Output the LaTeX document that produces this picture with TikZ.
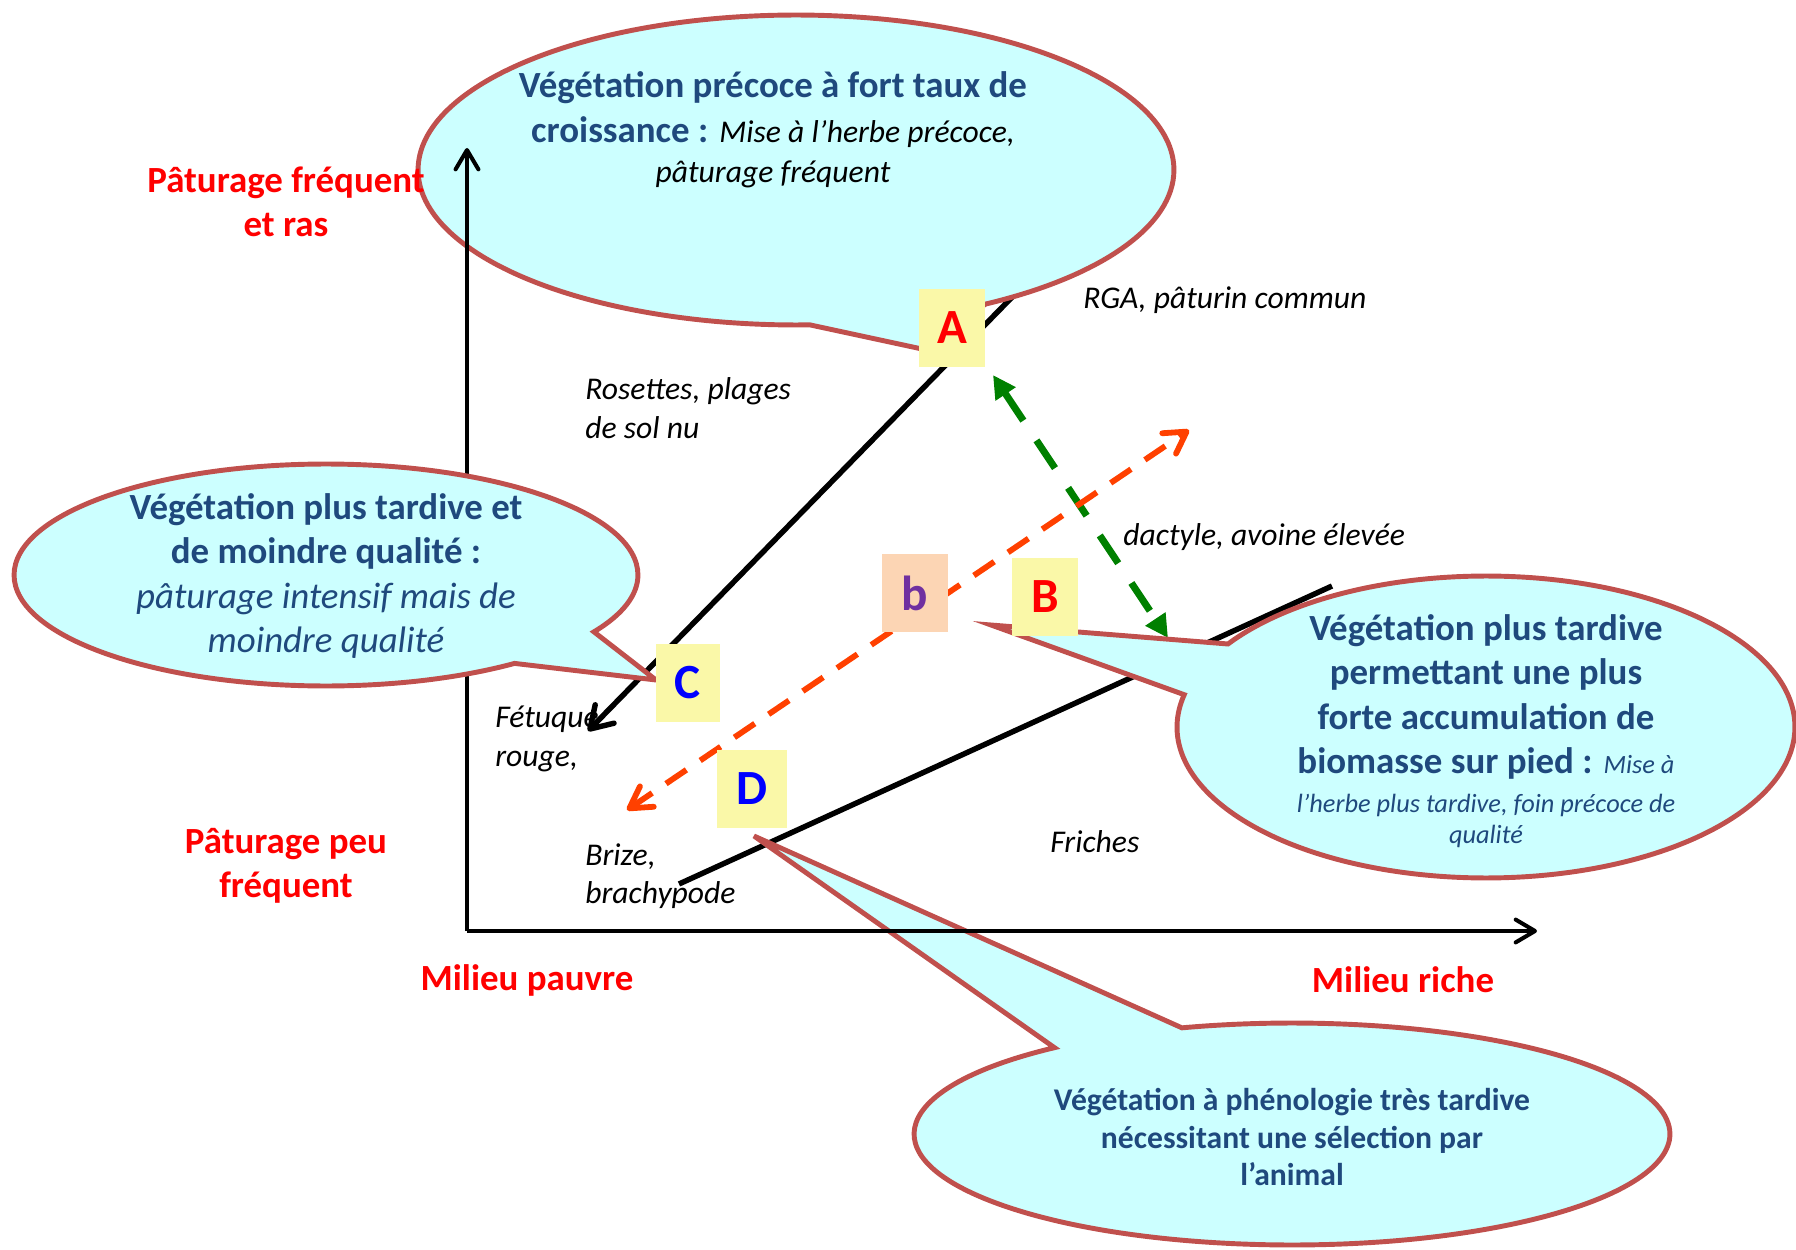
\documentclass[tikz,border=0pt]{standalone}
\usepackage{fontspec}
\setmainfont{Carlito}
\usetikzlibrary{arrows.meta,positioning,shapes.callouts}
\definecolor{bordure}{HTML}{C0504D}
\definecolor{cyanpale}{HTML}{CCFFFF}
\definecolor{bleufonce}{HTML}{1F497D}
\definecolor{jaune}{HTML}{FAF8A8}
\definecolor{peche}{HTML}{FCD5B4}
\definecolor{violetb}{HTML}{7030A0}
\definecolor{vert}{HTML}{008000}
\definecolor{orangevif}{HTML}{FF4000}
\newcommand{\glose}[1]{{\mdseries\itshape #1}}
\tikzstyle{bulle}=[ellipse callout,draw=bordure,fill=cyanpale,line width=2.8pt]
\tikzstyle{lettre}=[rectangle,fill=jaune,minimum width=1.32cm,minimum height=1.56cm,inner sep=0,font=\fontsize{28}{34}\selectfont\bfseries]
\tikzstyle{espece}=[anchor=west,align=left,inner sep=0,font=\fontsize{18}{21.9}\selectfont\itshape]
\tikzstyle{axe}=[align=center,text=red,inner sep=0,font=\fontsize{21}{24.8}\selectfont\bfseries]
\tikzstyle{texte}=[align=center,inner sep=0,text=bleufonce,font=\fontsize{21}{25.3}\selectfont\bfseries]
\tikzstyle{fleche}=[line width=2.3pt,-{Straight Barb[length=11pt,width=13pt,round]}]
\tikzstyle{trait}=[line width=3.1pt,-{Straight Barb[length=12pt,width=15pt,round]}]

\begin{document}
\begin{tikzpicture}[x=0.02cm,y=-0.02cm]
\useasboundingbox (0,0) rectangle (1796,1250);
% especes
\node[espece] (rga) at (1083,300) {RGA, pâturin commun};
\node[espece] (rosettes) at (585,408) {Rosettes, plages\\de sol nu};
\node[espece] (dactyle) at (1123,537) {dactyle, avoine élevée};
\node[espece] (fetuque) at (495,739) {Fétuque\\rouge,};
\node[espece] (brize) at (585,876) {Brize,\\brachypode};
\node[espece] (friches) at (1050,842) {Friches};
% trajectoires
\coordinate (hautA) at (1019,290);
\coordinate (basC) at (588,731);
\draw[trait] (hautA) -- (basC);
\coordinate (basD) at (679,884);
\coordinate (hautD) at (1332,586);
\draw[line width=3.1pt] (basD) -- (hautD);
% fleches pointillees
\coordinate (vertA) at (993,375);
\coordinate (vertB) at (1168,638);
\draw[vert,line width=4pt,dash pattern=on 19pt off 13.5pt,{Triangle[length=13pt,width=13pt]}-{Triangle[length=13pt,width=13pt]}] (vertA) -- (vertB);
\coordinate (orH) at (1189,430);
\coordinate (orB) at (627,810);
\draw[orangevif,line width=3.3pt,dash pattern=on 14pt off 9.5pt,{Straight Barb[length=12pt,width=14pt,round]}-{Straight Barb[length=12pt,width=14pt,round]}] (orB) -- (orH);
% bulles
\coordinate (pA) at (922,349);
\coordinate (pC) at (656,680);
\coordinate (pB) at (991,625);
\coordinate (pD) at (754,836);
\node[bulle,minimum width=15.12cm,minimum height=6.2cm,callout absolute pointer=(pA),callout pointer arc=28] (bA) at (796,170) {};
\node[bulle,minimum width=12.36cm,minimum height=6.04cm,callout absolute pointer=(pB),callout pointer arc=21] (bB) at (1486,727) {};
\node[bulle,minimum width=15.12cm,minimum height=4.44cm,callout absolute pointer=(pD),callout pointer arc=22] (bD) at (1292,1134) {};
% axes
\coordinate (O) at (467,931);
\coordinate (haut) at (467,148);
\coordinate (droite) at (1537,931);
\draw[fleche] (O) -- (haut);
\draw[fleche] (O) -- (droite);
\node[bulle,minimum width=12.48cm,minimum height=4.44cm,callout absolute pointer=(pC),callout pointer arc=22] (bC) at (326,575) {};
\node[axe] (frequent) at (286,202) {Pâturage fréquent\\et ras};
\node[axe] (peufrequent) at (286,866) {Pâturage peu\\fréquent};
\node[axe] (pauvre) at (527,980) {Milieu pauvre};
\node[axe] (riche) at (1403,980) {Milieu riche};
% textes des bulles
\node[texte] (tA) at (773,130) {Végétation précoce à fort taux de\\croissance : \glose{\color{black}\fontsize{18}{22}\selectfont Mise à l’herbe précoce,}\\[-2pt]\glose{\color{black}\fontsize{18}{22}\selectfont pâturage fréquent}};
\node[texte] (tC) at (326,576) {Végétation plus tardive et\\de moindre qualité :\\\glose{pâturage intensif mais de}\\\glose{moindre qualité}};
\node[texte] (tB) at (1486,731) {Végétation plus tardive\\permettant une plus\\forte accumulation de\\biomasse sur pied : \glose{\fontsize{15}{18}\selectfont Mise à}\\[-3.5pt]\glose{\fontsize{15}{18}\selectfont l’herbe plus tardive, foin précoce de}\\[-7.5pt]\glose{\fontsize{15}{18}\selectfont qualité}};
\node[texte,font=\fontsize{18}{21.5}\selectfont\bfseries] (tD) at (1292,1137) {Végétation à phénologie très tardive\\nécessitant une sélection par\\l’animal};
% lettres
\node[lettre,text=red] (A) at (952,328) {A};
\node[lettre,fill=peche,text=violetb] (b) at (915,593) {b};
\node[lettre,text=red] (B) at (1045,597) {B};
\node[lettre,text=blue,minimum width=1.28cm] (C) at (688,683) {C};
\node[lettre,text=blue,minimum width=1.4cm] (D) at (752,789) {D};
\end{tikzpicture}
\end{document}
